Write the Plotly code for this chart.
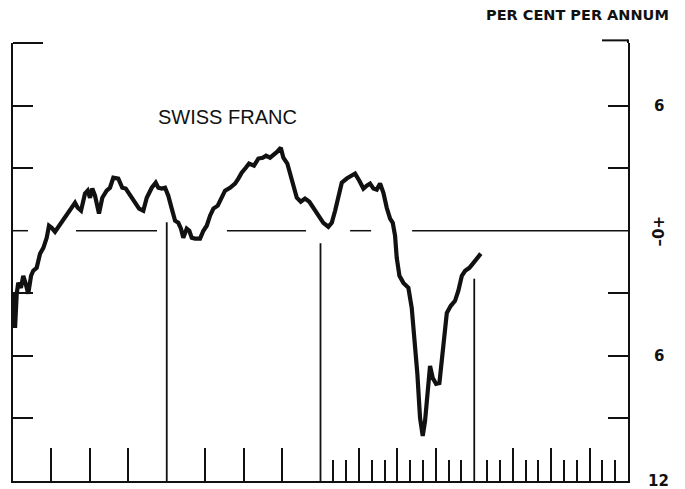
import plotly.graph_objects as go

# Swiss franc, per cent per annum; x in months from the start of the first year
months = [
    0.0, 0.16, 0.29, 0.41, 0.62, 0.80, 0.99, 1.19, 1.41, 1.58, 1.85, 2.11, 2.37, 2.63,
    2.81, 3.02, 3.28, 3.49, 3.80, 4.06, 4.32, 4.53, 4.84, 5.05, 5.31, 5.62, 5.83, 6.01,
    6.19, 6.40, 6.71, 6.97, 7.31, 7.57, 7.83, 8.22, 8.53, 8.80, 9.06, 9.39, 9.52, 9.84,
    10.17, 10.44, 10.83, 11.14, 11.34, 11.61, 11.87, 12.12, 12.39, 12.65, 12.90, 13.11,
    13.29, 13.56, 13.76, 13.95, 14.21, 14.60, 14.86, 15.12, 15.38, 15.64, 15.98, 16.29,
    16.55, 16.94, 17.33, 17.59, 17.85, 18.17, 18.42, 18.81, 19.15, 19.49, 19.75, 20.06,
    20.37, 20.63, 20.90, 21.10, 21.41, 21.62, 21.88, 22.15, 22.46, 22.79, 23.13, 23.44,
    23.83, 24.22, 24.61, 24.88, 25.14, 25.39, 25.66, 26.05, 26.44, 26.70, 27.03, 27.35,
    27.61, 27.87, 28.13, 28.39, 28.65, 28.91, 29.17, 29.43, 29.64, 29.82, 29.95, 30.16,
    30.47, 30.86, 31.12, 31.38, 31.56, 31.77, 31.98, 32.16, 32.34, 32.55, 32.76, 33.02,
    33.28, 33.54, 33.86, 34.17, 34.50, 34.76, 35.03, 35.29, 35.62, 35.94, 36.51,
]
rate = [
    -3.02, -4.66, -3.02, -2.50, -2.74, -2.16, -2.54, -3.02, -2.16, -1.92, -1.78, -1.10, -0.82, -0.34,
    0.24, 0.14, -0.05, 0.14, 0.38, 0.62, 0.82, 1.10, 1.34, 1.10, 0.96, 1.78, 1.92, 1.58,
    2.02, 1.68, 0.82, 1.58, 1.92, 2.06, 2.54, 2.50, 2.06, 2.02, 1.78, 1.54, 1.44, 1.06,
    0.96, 1.58, 2.06, 2.30, 2.06, 2.02, 2.06, 1.68, 1.06, 0.48, 0.38, 0.10,
    -0.34, 0.10, 0.00, -0.34, -0.38, -0.38, 0.00, 0.24, 0.72, 1.06, 1.20, 1.58,
    1.92, 2.06, 2.26, 2.50, 2.78, 3.02, 3.22, 3.12, 3.46, 3.50, 3.60, 3.50,
    3.65, 3.79, 3.98, 3.50, 3.22, 2.74, 2.02, 1.58, 1.39, 1.54, 1.39, 1.10,
    0.72, 0.38, 0.19, 0.38, 0.96, 1.68, 2.30, 2.50, 2.64, 2.74, 2.40, 2.02,
    2.16, 2.26, 2.02, 1.97, 2.26, 1.82, 1.10, 0.58, 0.38, -0.24, -1.30, -2.16,
    -2.50, -2.74, -3.70, -5.28, -6.86, -8.98, -9.84, -9.12, -7.68, -6.48, -7.06, -7.34,
    -7.30, -5.62, -3.94, -3.60, -3.36, -2.88, -2.16, -1.92, -1.78, -1.54, -1.10,
]

# year dividers and how high they rise
year_marks = [12, 24, 36]
year_mark_tops = [0.4, -0.6, -2.3]

# broken zero line: start/end month of each piece
zero_starts = [0, 4.92, 16.7, 26.31, 31.15]
zero_ends = [1.17, 11.24, 22.87, 27.95, 48]

quarter_ticks = [3, 6, 9, 15, 18, 21, 27, 30, 33, 39, 42, 45]
month_ticks = [25, 26, 28, 29, 31, 32, 34, 35, 37, 38, 40, 41, 43, 44, 46, 47]
side_ticks = [6, 3, -3, -6, -9]

INK = "#111111"

fig = go.Figure()

zx, zy = [], []
for a, b in zip(zero_starts, zero_ends):
    zx += [a, b, None]
    zy += [0, 0, None]
fig.add_trace(go.Scatter(x=zx, y=zy, mode="lines", line=dict(color=INK, width=1.5),
                         hoverinfo="skip", showlegend=False))

vx, vy = [], []
for m, top in zip(year_marks, year_mark_tops):
    vx += [m, m, None]
    vy += [-12, top, None]
fig.add_trace(go.Scatter(x=vx, y=vy, mode="lines", line=dict(color=INK, width=1.8),
                         hoverinfo="skip", showlegend=False, yaxis="y2"))

fig.add_trace(go.Scatter(x=months, y=rate, mode="lines",
                         line=dict(color=INK, width=4.2),
                         showlegend=False))

axis_common = dict(range=[-12, 9], showgrid=False, zeroline=False, showline=True,
                   linecolor=INK, linewidth=2, ticks="inside", tickmode="array",
                   tickvals=side_ticks, ticklen=20, tickwidth=2, tickcolor=INK,
                   showticklabels=False, fixedrange=True)

label_font = dict(family="DejaVu Sans", size=15, color=INK, weight="bold")

fig.update_layout(
    width=685, height=489,
    margin=dict(l=13, r=57, t=43, b=8),
    paper_bgcolor="white", plot_bgcolor="white",
    xaxis=dict(range=[0, 48], showgrid=False, zeroline=False, showline=True,
               linecolor=INK, linewidth=2, ticks="inside", tickmode="array",
               tickvals=quarter_ticks, ticklen=33, tickwidth=1.8, tickcolor=INK,
               showticklabels=False, fixedrange=True,
               minor=dict(tickmode="array", tickvals=month_ticks, ticks="inside",
                          ticklen=21, tickwidth=1.8, tickcolor=INK)),
    yaxis=dict(side="left", **axis_common),
    yaxis2=dict(side="right", overlaying="y", anchor="x", **axis_common),
    shapes=[
        dict(type="line", xref="paper", yref="paper", x0=0, x1=30 / 615, y0=1, y1=1,
             line=dict(color=INK, width=2)),
        dict(type="line", xref="paper", yref="paper", x0=(602 - 13) / 615, x1=1,
             y0=1.006, y1=1.006, line=dict(color=INK, width=2)),
        dict(type="line", xref="paper", yref="paper", x0=1, x1=1, y0=1, y1=1.008,
             line=dict(color=INK, width=2)),
    ],
    annotations=[
        dict(text="SWISS FRANC", x=0.233, y=0.83, xref="paper", yref="paper",
             xanchor="left", yanchor="middle", showarrow=False,
             font=dict(family="Liberation Sans", size=20, color=INK)),
        dict(text="PER CENT PER ANNUM", x=1.07, y=1.065, xref="paper", yref="paper",
             xanchor="right", yanchor="middle", showarrow=False,
             font=dict(family="DejaVu Sans", size=14.5, color=INK, weight="bold")),
        dict(text="6", x=1.05, y=6, xref="paper", yref="y", xanchor="center",
             showarrow=False, font=label_font),
        dict(text="\u20130+", x=1.05, y=0, xref="paper", yref="y", xanchor="center",
             textangle=-90, showarrow=False, font=label_font),
        dict(text="6", x=1.05, y=-6, xref="paper", yref="y", xanchor="center",
             showarrow=False, font=label_font),
        dict(text="12", x=1.05, y=-12, xref="paper", yref="y", xanchor="center",
             yanchor="middle", showarrow=False, font=label_font),
    ],
)

fig.write_html("out.html", config={"displayModeBar": False},
               post_script="document.body.style.margin='0';")
